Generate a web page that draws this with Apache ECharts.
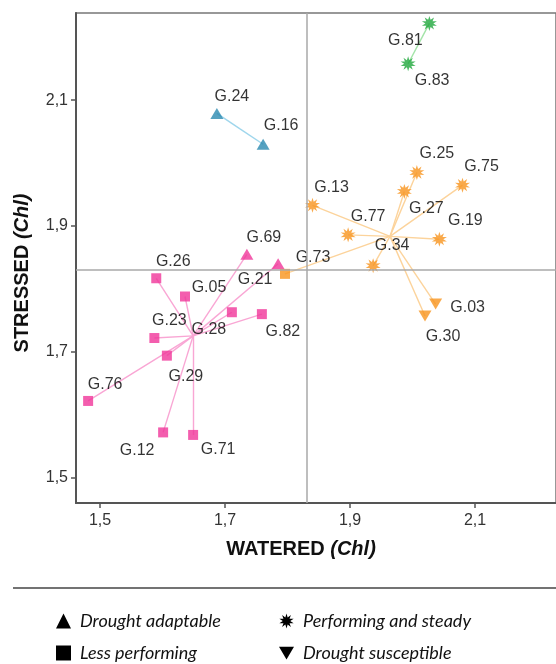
<!DOCTYPE html>
<html>
<head>
<meta charset="utf-8">
<script src="https://cdn.jsdelivr.net/npm/echarts@6/dist/echarts.min.js"></script>
<style>
  html, body { margin: 0; padding: 0; background: #fff; }
  #chart { width: 556px; height: 664px; }
</style>
</head>
<body>
<div id="chart"></div>
<script>
// values (chlorophyll, watered vs stressed)
const genotypes = ['G.24', 'G.16', 'G.81', 'G.83', 'G.25', 'G.27', 'G.75', 'G.13', 'G.77', 'G.19', 'G.34', 'G.73', 'G.03', 'G.30',
  'G.26', 'G.05', 'G.28', 'G.82', 'G.23', 'G.29', 'G.76', 'G.12', 'G.71', 'G.69', 'G.21'];
const watered = [1.687, 1.761, 2.027, 1.993, 2.007, 1.987, 2.080, 1.840, 1.897, 2.043, 1.937, 1.796, 2.037, 2.020,
  1.590, 1.636, 1.711, 1.759, 1.587, 1.607, 1.481, 1.601, 1.649, 1.735, 1.785];
const stressed = [2.079, 2.030, 2.222, 2.158, 1.985, 1.955, 1.965, 1.933, 1.886, 1.879, 1.837, 1.824, 1.776, 1.757,
  1.817, 1.788, 1.763, 1.760, 1.722, 1.694, 1.622, 1.572, 1.568, 1.855, 1.840];
// response group (marker shape) and cluster (colour) of each genotype
const groups = ['Drought adaptable', 'Less performing', 'Performing and steady', 'Drought susceptible'];
const group = [0, 0, 2, 2, 2, 2, 2, 2, 2, 2, 2, 1, 3, 3,
  1, 1, 1, 1, 1, 1, 1, 1, 1, 0, 0];
const cluster = [0, 0, 1, 1, 2, 2, 2, 2, 2, 2, 2, 2, 2, 2,
  3, 3, 3, 3, 3, 3, 3, 3, 3, 3, 3];
const centroidWatered = [1.724, 2.010, 1.964, 1.649];
const centroidStressed = [2.0545, 2.190, 1.8836, 1.7254];
const meanWatered = 1.83;
const meanStressed = 1.83;
const xTicks = [1.5, 1.7, 1.9, 2.1];
const yTicks = [1.5, 1.7, 1.9, 2.1];

const clusterColors = ['#2a8ab0', '#1fa83c', '#f7941d', '#f0369a'];
const spikeColors = ['#9fd6ec', '#a3e4a8', '#fcd39b', '#f9a6d4'];

// where each label sits relative to its marker
const labelOffsets = {
  'G.24': [15, -17], 'G.16': [18, -19], 'G.81': [-24, 17], 'G.83': [24, 17],
  'G.25': [20, -19], 'G.27': [22, 17], 'G.75': [19, -19], 'G.13': [19, -18],
  'G.77': [20, -18], 'G.19': [26, -19], 'G.34': [19, -20], 'G.73': [28, -16],
  'G.03': [32, 4], 'G.30': [18, 21], 'G.26': [17, -17], 'G.05': [24, -9],
  'G.21': [-23, 16], 'G.28': [-23, 17], 'G.82': [21, 17], 'G.23': [15, -17],
  'G.29': [19, 21], 'G.76': [17, -16], 'G.12': [-26, 18], 'G.71': [25, 15],
  'G.69': [17, -17]
};

function starPath(points, inner) {
  let d = '';
  for (let i = 0; i < points * 2; i++) {
    const r = i % 2 === 0 ? 10 : 10 * inner;
    const a = Math.PI * i / points - Math.PI / 2;
    d += (i === 0 ? 'M' : 'L') + (10 + r * Math.cos(a)).toFixed(2) + ',' + (10 + r * Math.sin(a)).toFixed(2);
  }
  return 'path://' + d + 'Z';
}
const STAR = starPath(10, 0.5);
const DOWN = 'path://M0,0L20,0L10,17Z';
const shapes = ['triangle', 'rect', STAR, DOWN];
const shapeSizes = [[13, 11], 10, 15, [13, 11]];
const legendIcons = ['triangle', 'rect', STAR, DOWN];

const fmt = (v) => v.toFixed(1).replace('.', ',');

const chart = echarts.init(document.getElementById('chart'), null, { renderer: 'canvas' });

const spikeSeries = centroidWatered.map((cw, c) => ({
  type: 'lines',
  coordinateSystem: 'cartesian2d',
  silent: true,
  z: 2,
  lineStyle: { color: spikeColors[c], width: 1.4, opacity: 1 },
  data: genotypes
    .map((g, i) => i)
    .filter((i) => cluster[i] === c)
    .map((i) => ({ coords: [[cw, centroidStressed[c]], [watered[i], stressed[i]]] }))
}));

const pointSeries = groups.map((grp, k) => ({
  name: grp,
  type: 'scatter',
  z: 4,
  symbol: shapes[k],
  symbolSize: shapeSizes[k],
  data: genotypes
    .map((g, i) => i)
    .filter((i) => group[i] === k)
    .map((i) => ({
      name: genotypes[i],
      value: [watered[i], stressed[i]],
      itemStyle: { color: clusterColors[cluster[i]] },
      label: { offset: labelOffsets[genotypes[i]] }
    })),
  label: {
    show: true,
    position: 'inside',
    formatter: '{b}',
    color: '#000',
    fontFamily: 'Liberation Sans, Arial, sans-serif',
    fontSize: 16
  },
  emphasis: { disabled: true }
}));

const meanSeries = {
  type: 'scatter',
  data: [],
  silent: true,
  z: 1,
  markLine: {
    silent: true,
    symbol: 'none',
    label: { show: false },
    lineStyle: { color: '#a9a9a9', width: 1.5, type: 'solid' },
    data: [{ xAxis: meanWatered }, { yAxis: meanStressed }]
  }
};

const axisFont = { color: '#333', fontFamily: 'Liberation Sans, Arial, sans-serif', fontSize: 16 };

const legendCommon = {
  orient: 'vertical',
  top: 607,
  height: 57,
  itemGap: 14,
  itemWidth: 15,
  itemHeight: 15,
  selectedMode: false,
  textStyle: { fontFamily: 'Lato, sans-serif', fontStyle: 'italic', fontSize: 18, color: '#111', padding: [0, 0, 0, 4] }
};
const legendItem = (k) => ({ name: groups[k], icon: legendIcons[k], itemStyle: { color: '#000', opacity: 1 } });

chart.setOption({
  animation: false,
  grid: {
    left: 76, top: 13, right: -3, bottom: 161,
    show: true, borderColor: '#777', borderWidth: 1.5
  },
  xAxis: {
    type: 'value',
    min: 1.4616,
    max: 2.2296,
    splitLine: { show: false },
    axisLine: { show: true, onZero: false, lineStyle: { color: '#555', width: 2 } },
    axisTick: { show: true, customValues: xTicks, length: 5, lineStyle: { color: '#555', width: 1.5 } },
    axisLabel: { customValues: xTicks, formatter: fmt, margin: 10, ...axisFont },
    name: '{b|WATERED }{i|(Chl)}',
    nameLocation: 'middle',
    nameGap: 36,
    nameTextStyle: {
      padding: [0, 30, 0, 0],
      rich: {
        b: { fontFamily: 'Liberation Sans, Arial, sans-serif', fontWeight: 'bold', fontSize: 20, color: '#111' },
        i: { fontFamily: 'Liberation Sans, Arial, sans-serif', fontWeight: 'bold', fontStyle: 'italic', fontSize: 20, color: '#111' }
      }
    }
  },
  yAxis: {
    type: 'value',
    min: 1.4598,
    max: 2.2386,
    splitLine: { show: false },
    axisLine: { show: true, onZero: false, lineStyle: { color: '#555', width: 2 } },
    axisTick: { show: true, customValues: yTicks, length: 5, lineStyle: { color: '#555', width: 1.5 } },
    axisLabel: { customValues: yTicks, formatter: fmt, margin: 8, ...axisFont },
    name: '{b|STRESSED }{i|(Chl)}',
    nameLocation: 'middle',
    nameGap: 44,
    nameTextStyle: {
      padding: [0, 30, 0, 0],
      rich: {
        b: { fontFamily: 'Liberation Sans, Arial, sans-serif', fontWeight: 'bold', fontSize: 20, color: '#111' },
        i: { fontFamily: 'Liberation Sans, Arial, sans-serif', fontWeight: 'bold', fontStyle: 'italic', fontSize: 20, color: '#111' }
      }
    }
  },
  legend: [
    { ...legendCommon, left: 51, data: [legendItem(0), legendItem(1)] },
    { ...legendCommon, left: 274, data: [legendItem(2), legendItem(3)] }
  ],
  graphic: [{
    type: 'line',
    shape: { x1: 13, y1: 588, x2: 556, y2: 588 },
    style: { stroke: '#444', lineWidth: 1.5 }
  }],
  series: [meanSeries, ...spikeSeries, ...pointSeries]
});
</script>
</body>
</html>
